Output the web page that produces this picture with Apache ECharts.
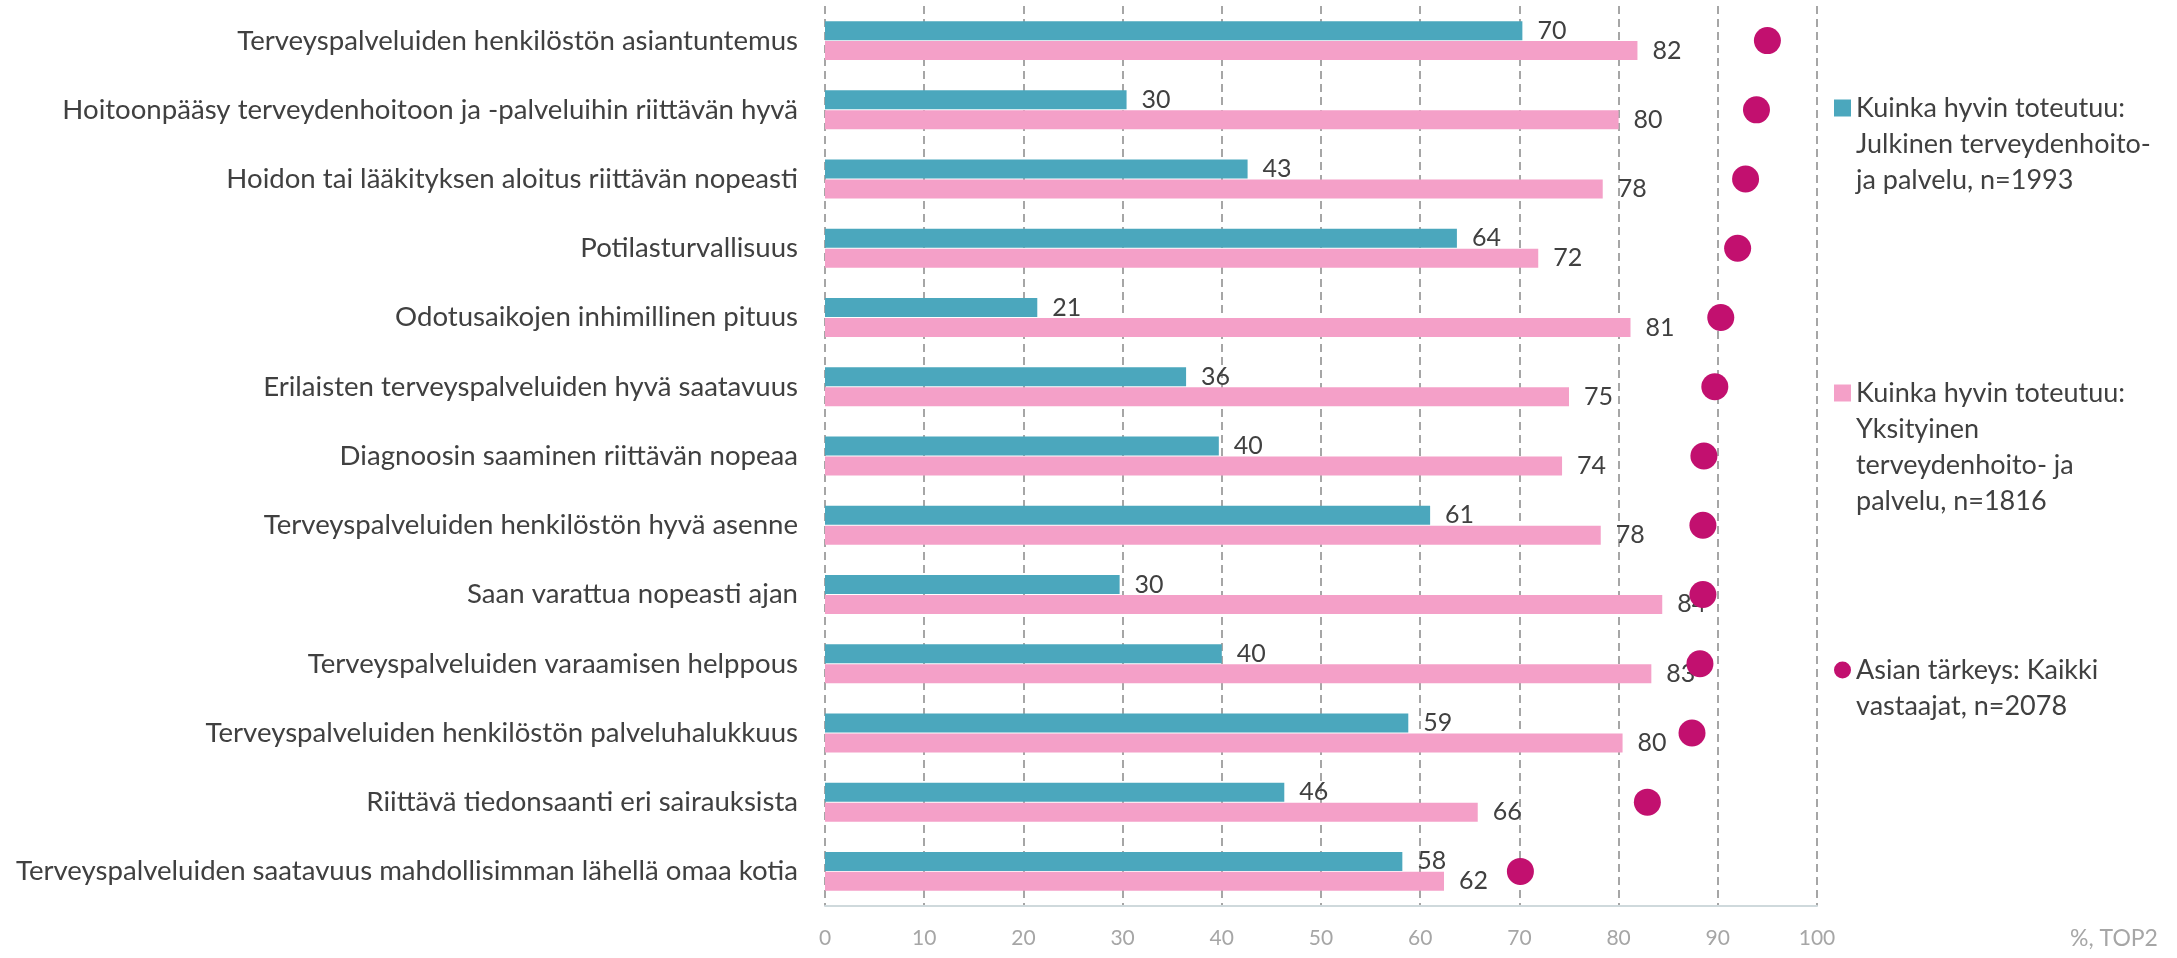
<!DOCTYPE html>
<html>
<head>
<meta charset="utf-8">
<script src="https://cdn.jsdelivr.net/npm/echarts@6/dist/echarts.min.js"></script>
<style>
html,body{margin:0;padding:0;background:#ffffff;}
#chart{width:2177px;height:958px;}
</style>
</head>
<body>
<div id="chart"></div>
<script>
// ---- data ----
const categories = [
  "Terveyspalveluiden henkilöstön asiantuntemus",
  "Hoitoonpääsy terveydenhoitoon ja -palveluihin riittävän hyvä",
  "Hoidon tai lääkityksen aloitus riittävän nopeasti",
  "Potilasturvallisuus",
  "Odotusaikojen inhimillinen pituus",
  "Erilaisten terveyspalveluiden hyvä saatavuus",
  "Diagnoosin saaminen riittävän nopeaa",
  "Terveyspalveluiden henkilöstön hyvä asenne",
  "Saan varattua nopeasti ajan",
  "Terveyspalveluiden varaamisen helppous",
  "Terveyspalveluiden henkilöstön palveluhalukkuus",
  "Riittävä tiedonsaanti eri sairauksista",
  "Terveyspalveluiden saatavuus mahdollisimman lähellä omaa kotia"
];
const publicValues     = [70.3, 30.4, 42.6, 63.7, 21.4, 36.4, 39.7, 61.0, 29.7, 40.0, 58.8, 46.3, 58.2];
const privateValues    = [81.9, 80.0, 78.4, 71.9, 81.2, 75.0, 74.3, 78.2, 84.4, 83.3, 80.4, 65.8, 62.4];
const importanceValues = [95.0, 93.9, 92.8, 92.0, 90.3, 89.7, 88.6, 88.5, 88.5, 88.2, 87.4, 82.9, 70.1];
const seriesNames = [
  "Kuinka hyvin toteutuu: Julkinen terveydenhoito- ja palvelu, n=1993",
  "Kuinka hyvin toteutuu: Yksityinen terveydenhoito- ja palvelu, n=1816",
  "Asian tärkeys: Kaikki vastaajat, n=2078"
];
const legendLines = [
  ["Kuinka hyvin toteutuu:", "Julkinen terveydenhoito-", "ja palvelu, n=1993"],
  ["Kuinka hyvin toteutuu:", "Yksityinen", "terveydenhoito- ja", "palvelu, n=1816"],
  ["Asian tärkeys: Kaikki", "vastaajat, n=2078"]
];
const axisMin = 0, axisMax = 100, axisStep = 10;
const axisName = "%, TOP2";

// ---- styling ----
const FONT = "Lato";
const colors = ["#4ba7bd", "#f4a0c8", "#c2106f"];
const legendIconCenters = [108, 393, 670];
const LH = 36;

const chart = echarts.init(document.getElementById("chart"), null, {renderer: "canvas"});

const legends = legendLines.map((lines, i) => {
  const n = lines.length;
  // blank lines before the text keep the icon level with the first text line
  const blank = new Array(n - 1).fill(" ");
  return {
    data: [{name: seriesNames[i], icon: i === 2 ? "circle" : "rect"}],
    left: 1834,
    top: legendIconCenters[i] - (2 * n - 1) * LH / 2,
    orient: "vertical",
    padding: 0,
    itemGap: 0,
    itemWidth: 17,
    itemHeight: 17,
    selectedMode: false,
    formatter: () => blank.concat(lines).join("\n"),
    textStyle: {fontFamily: FONT, fontSize: 27, color: "#404040", lineHeight: LH}
  };
});

const labelStyle = {
  show: true, position: "right", distance: 15,
  fontFamily: FONT, fontSize: 25, color: "#404040",
  formatter: p => String(Math.round(p.value))
};

chart.setOption({
  animation: false,
  backgroundColor: "#ffffff",
  legend: legends,
  grid: {left: 825, right: 360, top: 6, bottom: 52, containLabel: false, outerBoundsMode: "none"},
  xAxis: {
    type: "value", min: axisMin, max: axisMax, interval: axisStep,
    axisLine: {show: true, lineStyle: {color: "#cfd9dc", width: 2}},
    axisTick: {show: false},
    splitLine: {show: true, lineStyle: {color: "#a6a6a6", width: 2, type: [8, 5]}},
    axisLabel: {color: "#a6a6a6", fontFamily: FONT, fontSize: 21, margin: 22},
    name: axisName, nameLocation: "end", nameGap: 253,
    nameTextStyle: {color: "#a6a6a6", fontFamily: FONT, fontSize: 23, align: "left",
      verticalAlign: "top", lineHeight: 66}
  },
  yAxis: {
    type: "category", data: categories, inverse: true,
    axisLine: {show: false}, axisTick: {show: false},
    splitLine: {show: false},
    axisLabel: {color: "#404040", fontFamily: FONT, fontSize: 27.6, margin: 27}
  },
  series: [
    {name: seriesNames[0], type: "bar", data: publicValues, barWidth: 19, barGap: "5%",
     itemStyle: {color: colors[0]}, label: labelStyle},
    {name: seriesNames[1], type: "bar", data: privateValues, barWidth: 19, barGap: "5%",
     itemStyle: {color: colors[1]}, label: labelStyle},
    {name: seriesNames[2], type: "scatter", symbol: "circle", symbolSize: 27,
     data: importanceValues.map((v, i) => [v, categories[i]]),
     itemStyle: {color: colors[2], opacity: 1}, z: 3}
  ]
});
</script>
</body>
</html>
